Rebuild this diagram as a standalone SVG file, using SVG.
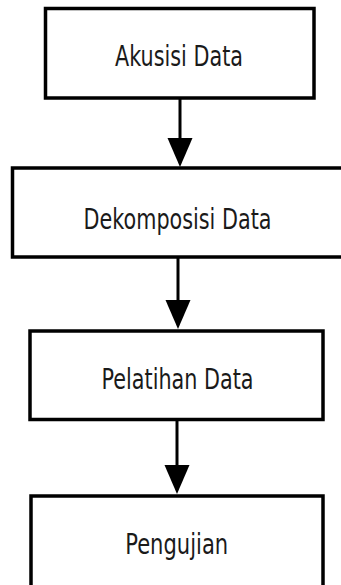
<svg xmlns="http://www.w3.org/2000/svg" width="341" height="585" viewBox="0 0 341 585">
<style>
.box{fill:#fff;stroke:#000;stroke-width:3.5}
.lbl{font-family:"DejaVu Sans","Liberation Sans",sans-serif;font-size:28.5px;fill:#1a1a1a;text-anchor:middle}
.edge{stroke:#000;stroke-width:3;fill:none}
.head{fill:#000}
</style>
<rect width="341" height="585" fill="#fff"/>
<g id="connectors">
<line class="edge" x1="180" y1="99" x2="180" y2="140"/>
<polygon class="head" points="167.5,138 192.5,138 180,167"/>
<line class="edge" x1="178" y1="258" x2="178" y2="302"/>
<polygon class="head" points="165.5,300 190.5,300 178,329"/>
<line class="edge" x1="177" y1="421" x2="177" y2="467"/>
<polygon class="head" points="164.5,465 189.5,465 177,494"/>
</g>
<g id="akusisi">
<rect class="box" x="45.5" y="8.5" width="268.5" height="89.5"/>
<text class="lbl" x="179" y="66" textLength="128" lengthAdjust="spacingAndGlyphs">Akusisi Data</text>
</g>
<g id="dekomposisi">
<rect class="box" x="12.5" y="168" width="340" height="89"/>
<text class="lbl" x="177.5" y="228.5" textLength="188" lengthAdjust="spacingAndGlyphs">Dekomposisi Data</text>
</g>
<g id="pelatihan">
<rect class="box" x="30" y="331" width="293" height="88.5"/>
<text class="lbl" x="177.5" y="388.5" textLength="152" lengthAdjust="spacingAndGlyphs">Pelatihan Data</text>
</g>
<g id="pengujian">
<rect class="box" x="31" y="496" width="292" height="100"/>
<text class="lbl" x="176.7" y="553.5" textLength="103" lengthAdjust="spacingAndGlyphs">Pengujian</text>
</g>
</svg>
